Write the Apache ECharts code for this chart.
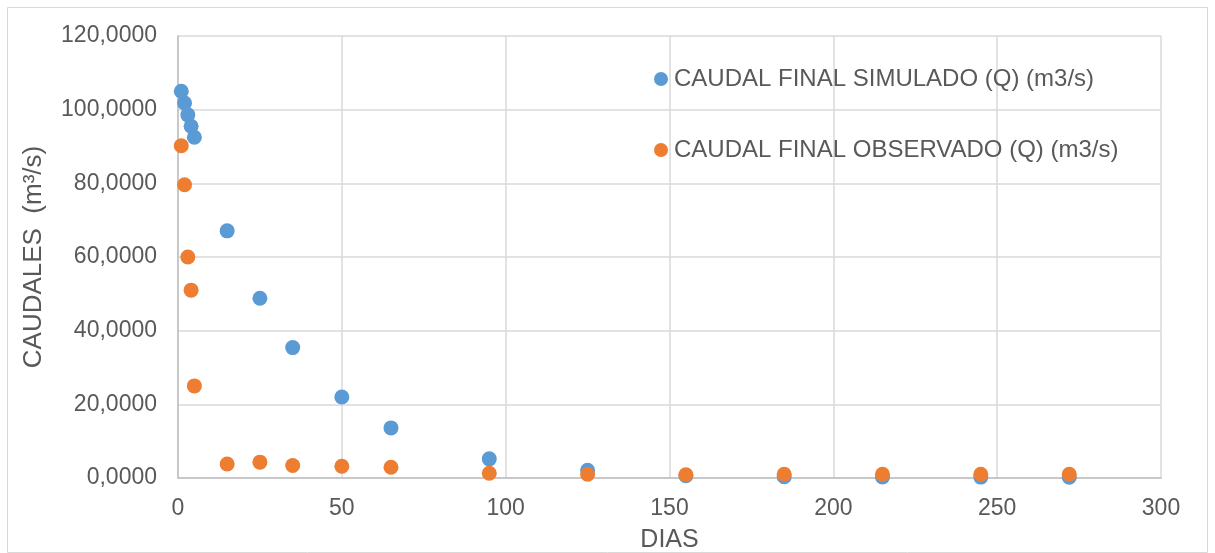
<!DOCTYPE html>
<html><head><meta charset="utf-8">
<script src="https://cdn.jsdelivr.net/npm/echarts@6/dist/echarts.min.js"></script>
<style>html,body{margin:0;padding:0;background:#fff}#c{width:1215px;height:553px}</style>
</head><body><div id="c"></div>
<script>
const dias = [1, 2, 3, 4, 5, 15, 25, 35, 50, 65, 95, 125, 155, 185, 215, 245, 272];
const simulado = [105.0, 101.8, 98.6, 95.5, 92.5, 67.1, 48.8, 35.4, 22.0, 13.6, 5.2, 2.1, 0.6, 0.35, 0.3, 0.25, 0.2];
const observado = [90.2, 79.6, 60.0, 51.0, 25.0, 3.8, 4.3, 3.4, 3.2, 2.9, 1.3, 1.0, 0.9, 1.0, 1.0, 1.0, 1.0];
const serieNames = ['CAUDAL FINAL SIMULADO (Q) (m3/s)', 'CAUDAL FINAL OBSERVADO (Q) (m3/s)'];
const xTitle = 'DIAS';
const yTitle = 'CAUDALES  (m³/s)';

const chart = echarts.init(document.getElementById('c'));
const font = 'Liberation Sans, Arial, sans-serif';
chart.setOption({
  animation: false,
  backgroundColor: '#fff',
  graphic: [{type:'rect', shape:{x:7.5,y:7.5,width:1200,height:545}, style:{fill:'none', stroke:'#D9D9D9', lineWidth:1}}],
  grid: {left: 178, right: 54, top: 36, bottom: 75, containLabel: false, outerBoundsMode: 'none'},
  legend: {
    orient: 'vertical', left: 649, top: 62, itemGap: 47, itemWidth: 14, itemHeight: 14,
    icon: 'circle',
    textStyle: {fontFamily: font, fontSize: 24, color: '#595959', padding:[0,0,0,1]},
    data: serieNames
  },
  xAxis: {
    type: 'value', min: 0, max: 300, interval: 50,
    name: xTitle, nameLocation: 'middle', nameGap: 50,
    nameTextStyle: {fontFamily: font, fontSize: 25, color: '#595959'},
    axisLine: {show: true, lineStyle: {color: '#BFBFBF', width: 1.5}},
    axisTick: {show: false},
    axisLabel: {fontFamily: font, fontSize: 23, color: '#595959', margin: 19},
    splitLine: {show: true, lineStyle: {color: '#D9D9D9', width: 1.5}}
  },
  yAxis: {
    type: 'value', min: 0, max: 120, interval: 20,
    name: yTitle, nameLocation: 'middle', nameGap: 131, nameRotate: 90,
    nameTextStyle: {fontFamily: font, fontSize: 26, color: '#595959'},
    axisLine: {show: true, lineStyle: {color: '#BFBFBF', width: 1.5}},
    axisTick: {show: false},
    axisLabel: {fontFamily: font, fontSize: 23, color: '#595959', margin: 21,
      formatter: v => v.toFixed(4).replace('.', ',')},
    splitLine: {show: true, lineStyle: {color: '#D9D9D9', width: 1.5}}
  },
  series: [
    {name: serieNames[0], type: 'scatter', symbol: 'circle', symbolSize: 15,
     itemStyle: {color: '#5B9BD5', opacity: 1},
     data: dias.map((d, i) => [d, simulado[i]])},
    {name: serieNames[1], type: 'scatter', symbol: 'circle', symbolSize: 15,
     itemStyle: {color: '#ED7D31', opacity: 1},
     data: dias.map((d, i) => [d, observado[i]])}
  ]
});
</script></body></html>
